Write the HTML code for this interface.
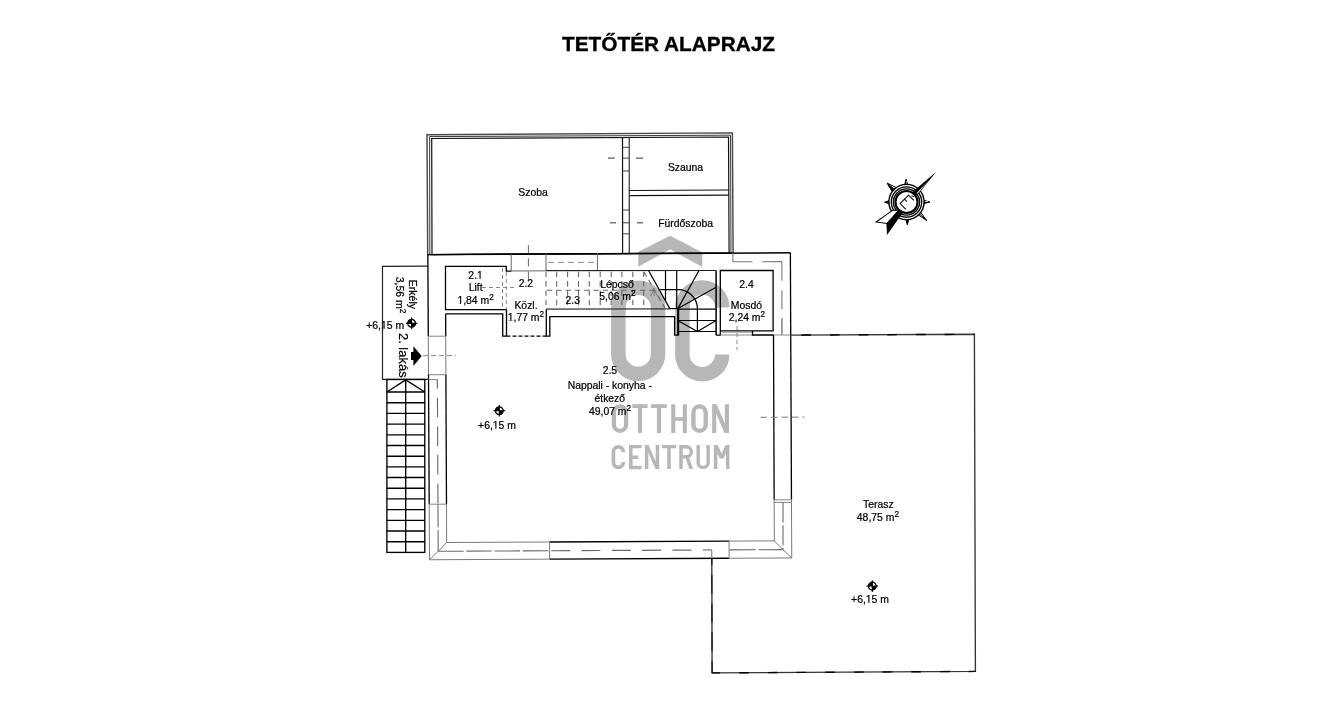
<!DOCTYPE html>
<html>
<head>
<meta charset="utf-8">
<style>
html,body{margin:0;padding:0;background:#fff;}
body{width:1342px;height:705px;overflow:hidden;position:relative;font-family:"Liberation Sans",sans-serif;}
svg{position:absolute;left:0;top:0;filter:grayscale(1);}
svg text{font-family:"Liberation Sans",sans-serif;}
</style>
</head>
<body>
<svg width="1342" height="705" viewBox="0 0 1342 705">
<rect x="0" y="0" width="1342" height="705" fill="#fff"/>

<!-- TITLE -->
<text x="668.5" y="51" font-size="20.8" font-weight="bold" text-anchor="middle" fill="#000" stroke="#000" stroke-width="0.35">TETŐTÉR ALAPRAJZ</text>

<!-- WATERMARK -->
<g id="wm" fill="#b7b7b7" stroke="none">
  <polygon points="670.1,236 702,252.6 702,266.6 670.1,249.1 638.55,266.3 638.55,252" stroke="#b7b7b7" stroke-width="0.6" stroke-linejoin="round"/>
  <path d="M618.35,307.6 A19.85,19.85 0 0 1 658.05,307.6 L658.05,354 A19.85,19.85 0 0 1 618.35,354 Z" fill="none" stroke="#b7b7b7" stroke-width="14.5"/>
  <path d="M722.2,307.5 A19.9,19.9 0 0 0 682.4,307.5 L682.4,354.4 A19.9,19.9 0 0 0 722.2,354.4" fill="none" stroke="#b7b7b7" stroke-width="14.5"/>
  <g fill="none" stroke="#b7b7b7" stroke-linecap="butt">
    <!-- OTTHON -->
    <path d="M613.9,412.5 A6.1,6.1 0 0 1 626.1,412.5 V424.7 A6.1,6.1 0 0 1 613.9,424.7 Z" stroke-width="4.3"/>
    <path d="M632.3,406.1 H647.6 M651.1,406.1 H666.8" stroke-width="3.6"/>
    <path d="M639.95,404.3 V432.9 M658.95,404.3 V432.9 M673.25,404.3 V432.9 M684.85,404.3 V432.9 M714.2,404.3 V432.9 M726.9,404.3 V432.9" stroke-width="4.1"/>
    <path d="M673.25,419 H684.85" stroke-width="3.5"/>
    <path d="M693.4,412.55 A6.15,6.15 0 0 1 705.7,412.55 V424.65 A6.15,6.15 0 0 1 693.4,424.65 Z" stroke-width="4.4"/>
    <!-- CENTRUM -->
    <path d="M623.3,452.2 L623.3,451.75 A4.95,4.95 0 0 0 613.4,451.75 L613.4,462.35 A4.95,4.95 0 0 0 623.3,462.35 L623.3,461.9" stroke-width="3.7"/>
    <path d="M630.8,445 V469.1 M646.6,445 V469.1 M657.45,445 V469.1 M669,445 V469.1 M681,445 V469.1 M715.6,445 V469.1 M727.7,445 V469.1" stroke-width="3.5"/>
    <path d="M629,446.6 H641.5 M629,457.25 H638.2 M629,467.5 H641.5 M662,446.7 H676" stroke-width="3.3"/>
    <path d="M681,446.8 H686.3 A5,5 0 0 1 686.3,456.8 H681" stroke-width="3.5"/>
    <path d="M698.15,445 V462.4 A5,5 0 0 0 708.15,462.4 V445" stroke-width="3.4"/>
  </g>
  <polygon points="712.2,404.3 716.6,404.3 728.9,432.9 724.5,432.9"/>
  <polygon points="644.9,445 648.5,445 659.1,469.1 655.5,469.1"/>
  <polygon points="685.3,457.2 689.1,457.2 693.1,469.1 689.3,469.1"/>
  <polygon points="713.8,445 717.6,445 721.6,453.6 725.6,445 729.5,445 723.5,458.6 719.7,458.6"/>
</g>

<g id="upper">
<polygon points="427,134.7 732.4,132.9 733.1,252.9 427.7,254.6" stroke="#4a4a4a" stroke-width="1.45" fill="none"/>
<polygon points="429.6,136.6 730.5,135.2 731,253 429.8,254.6" stroke="#3a3a3a" stroke-width="1.0" fill="none"/>
<polygon points="431.7,138.5 728.5,137 729.1,253 432,254.6" stroke="#111" stroke-width="1.2" fill="none"/>
<line x1="622.5" y1="137.5" x2="622.6" y2="253.6" stroke="#111" stroke-width="1.2"/>
<line x1="629.2" y1="137.3" x2="629.3" y2="253.5" stroke="#333" stroke-width="1.2"/>
<line x1="622.5" y1="147.3" x2="629.2" y2="147.3" stroke="#444" stroke-width="1.0"/>
<line x1="622.5" y1="158.1" x2="629.2" y2="158.1" stroke="#444" stroke-width="1.0"/>
<line x1="622.5" y1="171" x2="629.2" y2="171" stroke="#444" stroke-width="1.0"/>
<line x1="622.5" y1="210" x2="629.2" y2="210" stroke="#444" stroke-width="1.0"/>
<line x1="622.5" y1="222.8" x2="629.2" y2="222.8" stroke="#444" stroke-width="1.0"/>
<line x1="622.5" y1="233.8" x2="629.2" y2="233.8" stroke="#444" stroke-width="1.0"/>
<line x1="608" y1="158.1" x2="614.8" y2="158.1" stroke="#444" stroke-width="1.1"/>
<line x1="636" y1="158.1" x2="643" y2="158.1" stroke="#444" stroke-width="1.1"/>
<line x1="610" y1="222.8" x2="616" y2="222.8" stroke="#444" stroke-width="1.1"/>
<line x1="637" y1="222.8" x2="643" y2="222.8" stroke="#444" stroke-width="1.1"/>
<line x1="629.2" y1="190.5" x2="728.8" y2="190" stroke="#111" stroke-width="1.2"/>
<line x1="629.3" y1="195.6" x2="728.8" y2="195.1" stroke="#111" stroke-width="1.2"/>
</g>
<g id="main" fill="none">
<line x1="427.83" y1="254.65" x2="790.37" y2="252.84" stroke="#000" stroke-width="1.45"/>
<line x1="427.83" y1="254.6" x2="428.28" y2="336.2" stroke="#000" stroke-width="1.3"/>
<line x1="428.28" y1="336.2" x2="428.49" y2="374.6" stroke="#7a7a7a" stroke-width="1.0"/>
<line x1="428.49" y1="374.6" x2="429.2" y2="504.2" stroke="#000" stroke-width="1.3"/>
<line x1="429.2" y1="504.2" x2="429.51" y2="559.75" stroke="#7a7a7a" stroke-width="1.0"/>
<line x1="445.62" y1="313.9" x2="445.72" y2="336.2" stroke="#000" stroke-width="1.3"/>
<line x1="445.72" y1="336.2" x2="445.9" y2="374.6" stroke="#7a7a7a" stroke-width="1.0"/>
<line x1="445.9" y1="374.6" x2="446.48" y2="504.2" stroke="#000" stroke-width="1.3"/>
<line x1="446.48" y1="504.2" x2="446.65" y2="542.5" stroke="#7a7a7a" stroke-width="1.0"/>
<line x1="428.28" y1="336.2" x2="445.72" y2="336.2" stroke="#858585" stroke-width="1.0"/>
<line x1="428.49" y1="374.7" x2="445.9" y2="374.7" stroke="#858585" stroke-width="1.0"/>
<line x1="429.2" y1="504.2" x2="446.48" y2="504.2" stroke="#858585" stroke-width="1.0"/>
<line x1="790.37" y1="252.85" x2="791.48" y2="499.8" stroke="#000" stroke-width="1.3"/>
<line x1="791.48" y1="499.8" x2="791.74" y2="557.94" stroke="#7a7a7a" stroke-width="1.0"/>
<line x1="773.5" y1="335" x2="774.16" y2="499.8" stroke="#000" stroke-width="1.3"/>
<line x1="774.16" y1="499.8" x2="774.33" y2="540.87" stroke="#7a7a7a" stroke-width="1.0"/>
<line x1="774.16" y1="499.8" x2="791.48" y2="499.8" stroke="#858585" stroke-width="1.0"/>
<line x1="774.17" y1="502.4" x2="791.49" y2="502.4" stroke="#858585" stroke-width="1.0"/>
<line x1="429.5" y1="559.75" x2="549.6" y2="559.15" stroke="#7a7a7a" stroke-width="1.0"/>
<line x1="549.6" y1="559.15" x2="728.9" y2="558.26" stroke="#000" stroke-width="1.35"/>
<line x1="728.9" y1="558.26" x2="791.74" y2="557.94" stroke="#7a7a7a" stroke-width="1.0"/>
<line x1="446.65" y1="542.51" x2="549.6" y2="541.99" stroke="#7a7a7a" stroke-width="1.0"/>
<line x1="549.6" y1="541.99" x2="729" y2="541.1" stroke="#000" stroke-width="1.35"/>
<line x1="729" y1="541.1" x2="774.33" y2="540.87" stroke="#7a7a7a" stroke-width="1.0"/>
<line x1="549.6" y1="541.99" x2="549.6" y2="559.15" stroke="#7a7a7a" stroke-width="1.0"/>
<line x1="729.1" y1="541.09" x2="729.1" y2="558.25" stroke="#7a7a7a" stroke-width="1.0"/>
<polyline points="429.5,559.75 438.21,551.3 446.65,542.5" stroke="#7a7a7a" stroke-width="1.0" fill="none"/>
<polyline points="774.33,540.87 783,549.6 791.74,557.94" stroke="#7a7a7a" stroke-width="1.0" fill="none"/>
<line x1="437.35" y1="379.4" x2="437.97" y2="504.2" stroke="#6a6a6a" stroke-width="1.15" stroke-dasharray="19.5,9.2" stroke-dashoffset="10.4"/>
<line x1="437.97" y1="504.2" x2="438.21" y2="551.3" stroke="#6a6a6a" stroke-width="1.1" stroke-dasharray="26,2.7" stroke-dashoffset="3"/>
<line x1="438.21" y1="551.3" x2="549.6" y2="550.77" stroke="#6a6a6a" stroke-width="1.1" stroke-dasharray="25.5,2.7"/>
<line x1="549.6" y1="550.77" x2="711.7" y2="549.96" stroke="#6a6a6a" stroke-width="1.2" stroke-dasharray="0,1.6,19,9.7" stroke-dashoffset="0"/>
<line x1="729.8" y1="549.87" x2="783" y2="549.6" stroke="#6a6a6a" stroke-width="1.1" stroke-dasharray="26,2.7"/>
<line x1="783" y1="502.6" x2="783" y2="549.6" stroke="#6a6a6a" stroke-width="1.1" stroke-dasharray="20,2.7"/>
<line x1="781.9" y1="261.7" x2="781.9" y2="335" stroke="#7a7a7a" stroke-width="1.1" stroke-dasharray="19,9.6"/>
<polyline points="428.52,379.6 437.35,379.6 437.37,384" stroke="#858585" stroke-width="1.0" fill="none"/>
<polyline points="732.9,253 732.9,261.8 752.5,261.7" stroke="#7a7a7a" stroke-width="1.1" fill="none"/>
<line x1="762.3" y1="261.7" x2="781.9" y2="261.6" stroke="#7a7a7a" stroke-width="1.1"/>
</g>
<g id="terrace" fill="none">
<polyline points="790.74,335.1 974.4,334.3 975.4,671.4 712.1,672.9 711.8,558.34" stroke="#363636" stroke-width="1.35" fill="none"/>
<line x1="801.3" y1="335.05" x2="974.4" y2="334.3" stroke="#000" stroke-width="1.4" stroke-dasharray="9.7,19"/>
<line x1="975.4" y1="671.4" x2="712.1" y2="672.9" stroke="#000" stroke-width="1.4" stroke-dasharray="9.7,19" stroke-dashoffset="3"/>
<line x1="712.1" y1="672.9" x2="711.8" y2="558.34" stroke="#111" stroke-width="1.2" stroke-dasharray="19,9.7" stroke-dashoffset="7"/>
<polyline points="711.8,558.34 711.7,549.96" stroke="#7a7a7a" stroke-width="1.1" fill="none"/>
<line x1="760.5" y1="417.3" x2="804.4" y2="417.1" stroke="#7a7a7a" stroke-width="1.0" stroke-dasharray="6.5,4"/>
</g>
<g font-size="10.4" fill="#000" stroke="#000" stroke-width="0.22" text-anchor="middle">
  <text x="533.1" y="195.6">Szoba</text>
  <text x="685.5" y="171">Szauna</text>
  <text x="685.6" y="226.9">Fürdőszoba</text>
</g>

<!-- TOP WALL INNER STRUCTURES -->
<g fill="none">
  <!-- lift box -->
  <polyline points="506.3,309.6 445.5,309.6 445.5,266.3 506.3,266.3 506.3,271.2 511.3,271.2" stroke="#000" stroke-width="1.3"/>
  <line x1="511.2" y1="254" x2="511.2" y2="271.2" stroke="#666" stroke-width="1"/>
  <line x1="528.4" y1="245.1" x2="528.4" y2="281.5" stroke="#666" stroke-width="1" stroke-dasharray="8.2,5"/>
  <line x1="511.3" y1="271" x2="546" y2="270.8" stroke="#666" stroke-width="1"/>
  <g stroke="#888" stroke-width="1" stroke-dasharray="4,3">
    <line x1="502.5" y1="268" x2="502.5" y2="309.6"/>
    <line x1="506.3" y1="272" x2="506.3" y2="309.6"/>
    <line x1="482" y1="287.5" x2="516" y2="287.5"/>
  </g>
  <!-- main room top-left, notch -->
  <polyline points="445.5,313.8 502.7,313.8 502.7,336.2 506.5,336.2 506.5,309.6" stroke="#000" stroke-width="1.3"/>
  <line x1="506.5" y1="336.2" x2="546.3" y2="336.2" stroke="#000" stroke-width="1.2" stroke-dasharray="4,2"/>
  <polyline points="546.3,309.2 546.3,336.2 549.8,336.2 549.8,316.7 674.6,316.7 674.6,335.2 678.2,335.2 678.2,308.6" stroke="#000" stroke-width="1.3"/>
  <!-- stair section grey -->
  <line x1="546" y1="253.3" x2="546" y2="270.6" stroke="#666" stroke-width="1"/>
  <line x1="597.4" y1="253.3" x2="597.4" y2="270.6" stroke="#666" stroke-width="1"/>
  <line x1="548" y1="262.4" x2="597" y2="262.4" stroke="#888" stroke-width="1" stroke-dasharray="6,4"/>
  <line x1="546" y1="270.6" x2="716.1" y2="270.5" stroke="#222" stroke-width="1.2"/>
  <line x1="546" y1="309.2" x2="669.8" y2="308.8" stroke="#333" stroke-width="1.2"/>
  <g stroke="#666" stroke-width="1.1" stroke-dasharray="5.3,4">
    <line x1="546" y1="271.8" x2="546" y2="309"/>
    <line x1="556.7" y1="271.8" x2="556.7" y2="309"/>
    <line x1="567.6" y1="271.8" x2="567.6" y2="309"/>
    <line x1="578.5" y1="271.8" x2="578.5" y2="309"/>
    <line x1="589.3" y1="271.8" x2="589.3" y2="309"/>
    <line x1="600.2" y1="271.8" x2="600.2" y2="309"/>
    <line x1="611.2" y1="271.8" x2="611.2" y2="309"/>
    <line x1="621.9" y1="271.8" x2="621.9" y2="309"/>
    <line x1="632.8" y1="271.8" x2="632.8" y2="309"/>
    <line x1="643.7" y1="271.8" x2="643.7" y2="309"/>
    <line x1="547" y1="290.2" x2="660" y2="290.2"/>
    <line x1="644" y1="272" x2="665" y2="308"/>
  </g>
  <path d="M650.6,296 L654.1,289.5 L657.6,296 M654.1,289.5 V296" fill="none" stroke="#777" stroke-width="1"/>
  <!-- winder stair -->
  <g stroke="#000" stroke-width="1.2">
    <line x1="648.5" y1="270.5" x2="669.8" y2="308.6"/>
    <line x1="669.8" y1="308.6" x2="677.8" y2="308.6"/>
    <line x1="665.5" y1="270.5" x2="665.5" y2="300.9"/>
    <line x1="676.7" y1="270.5" x2="676.7" y2="308.6"/>
    <line x1="677.8" y1="308.6" x2="699" y2="270.5"/>
    <line x1="677.8" y1="308.6" x2="716.1" y2="287.3"/>
    <path d="M660.2,289.7 L677.5,289.7 A19.4,19 0 0 1 697.4,308.6 L697.4,331.5"/>
    <line x1="677.8" y1="309.1" x2="716.1" y2="309.1"/>
    <line x1="677.8" y1="320.5" x2="716.1" y2="320.5"/>
    <line x1="677.8" y1="331.5" x2="716.1" y2="331.5"/>
    <polyline points="677.8,320.5 697.4,331.5 716.1,320.5"/>
    <line x1="716.1" y1="270.5" x2="716.1" y2="335.2" stroke-width="1.5"/>
    <polyline points="716.1,335.2 720.3,335.2 720.3,270.5 773.1,270.5 773.1,330.8 720.3,330.8" stroke-width="1.3"/>
  </g>
  <line x1="678.2" y1="308.6" x2="678.2" y2="335.2" stroke="#000" stroke-width="2"/>
  <!-- mosdó bottom threshold -->
  <line x1="722" y1="332.2" x2="752.5" y2="332.2" stroke="#999" stroke-width="1"/>
  <line x1="720.3" y1="335" x2="752.5" y2="335" stroke="#888" stroke-width="1"/>
  <polyline points="752.5,331 752.5,335 773.8,335" stroke="#000" stroke-width="1.3"/>
  <line x1="773.8" y1="335" x2="790.3" y2="335" stroke="#888" stroke-width="1"/>
  <line x1="781.9" y1="317.5" x2="781.9" y2="335" stroke="#888" stroke-width="1"/>
  <line x1="737" y1="326" x2="737" y2="350" stroke="#888" stroke-width="1" stroke-dasharray="4,3"/>
</g>

<!-- ERKÉLY -->
<g fill="none" stroke="#222" stroke-width="1.2">
  <polyline points="428.2,266.2 382.5,266.3 382.5,379.4 428.5,379.4"/>
</g>
<g stroke="#888" stroke-width="1" stroke-dasharray="5,3">
  <line x1="423" y1="355.7" x2="456" y2="355.7"/>
</g>
<!-- entrance arrow -->
<polygon points="411,352 413.4,352 413.4,346.2 421.7,355.9 413.4,365.9 413.4,360 411,360" fill="#000"/>

<!-- LEFT STAIRS -->
<g fill="none" stroke="#000" stroke-width="1.35">
  <rect x="386.9" y="379.5" width="37.9" height="172.9"/>
  <line x1="405.7" y1="379.5" x2="405.7" y2="552.4"/>
  <polyline points="386.9,392.0 405.7,379.9 424.8,392.0"/>
  <line x1="386.9" y1="392.0" x2="424.8" y2="392.0"/>
  <line x1="386.9" y1="402.7" x2="424.8" y2="402.7"/>
  <line x1="386.9" y1="413.4" x2="424.8" y2="413.4"/>
  <line x1="386.9" y1="424.1" x2="424.8" y2="424.1"/>
  <line x1="386.9" y1="434.8" x2="424.8" y2="434.8"/>
  <line x1="386.9" y1="445.5" x2="424.8" y2="445.5"/>
  <line x1="386.9" y1="456.2" x2="424.8" y2="456.2"/>
  <line x1="386.9" y1="466.9" x2="424.8" y2="466.9"/>
  <line x1="386.9" y1="477.5" x2="424.8" y2="477.5"/>
  <line x1="386.9" y1="488.2" x2="424.8" y2="488.2"/>
  <line x1="386.9" y1="498.9" x2="424.8" y2="498.9"/>
  <line x1="386.9" y1="509.6" x2="424.8" y2="509.6"/>
  <line x1="386.9" y1="520.3" x2="424.8" y2="520.3"/>
  <line x1="386.9" y1="531.0" x2="424.8" y2="531.0"/>
  <line x1="386.9" y1="541.7" x2="424.8" y2="541.7"/>
</g>

<!-- LEVEL MARKERS -->
<defs>
  <g id="lvl">
    <circle cx="0" cy="0" r="3.9" fill="#fff" stroke="#000" stroke-width="1.3"/>
    <path d="M0,0 L-3.9,0 A3.9,3.9 0 0 1 0,-3.9 Z" fill="#000"/>
    <path d="M0,0 L3.9,0 A3.9,3.9 0 0 1 0,3.9 Z" fill="#000"/>
    <line x1="-5.8" y1="0" x2="5.8" y2="0" stroke="#000" stroke-width="1.1"/>
    <line x1="0" y1="-5.8" x2="0" y2="5.8" stroke="#000" stroke-width="1.1"/>
  </g>
</defs>
<use href="#lvl" x="411.6" y="323.3"/>
<use href="#lvl" x="499.3" y="410.7"/>
<use href="#lvl" x="872.3" y="586.1"/>

<!-- ROOM TEXTS -->
<g font-size="10.4" fill="#000" stroke="#000" stroke-width="0.22" text-anchor="middle">
  <text x="475.6" y="278.8">2.1</text>
  <text x="475.6" y="291.3">Lift</text>
  <text x="475.6" y="303.8">1,84 m<tspan font-size="8.2" dy="-4">2</tspan></text>
  <text x="525.9" y="286.9">2.2</text>
  <text x="526" y="308.8">Közl.</text>
  <text x="525.9" y="321.3">1,77 m<tspan font-size="8.2" dy="-4">2</tspan></text>
  <text x="572.7" y="303.7">2.3</text>
  <text x="617" y="287.6">Lépcső</text>
  <text x="617.4" y="300.1">5,06 m<tspan font-size="8.2" dy="-4">2</tspan></text>
  <text x="746.5" y="287.5">2.4</text>
  <text x="746.4" y="308.8">Mosdó</text>
  <text x="746.9" y="321.3">2,24 m<tspan font-size="8.2" dy="-4">2</tspan></text>
  <text x="609.9" y="373.9">2.5</text>
  <text x="609.8" y="389.2">Nappali - konyha -</text>
  <text x="609.8" y="401.6">étkező</text>
  <text x="610" y="414.6">49,07 m<tspan font-size="8.2" dy="-4">2</tspan></text>
  <text x="497" y="428.5">+6,15 m</text>
  <text x="878.3" y="507.9">Terasz</text>
  <text x="877.9" y="520.6">48,75 m<tspan font-size="8.2" dy="-4">2</tspan></text>
  <text x="870" y="603">+6,15 m</text>
  <text x="385.2" y="329">+6,15 m</text>
</g>
<g id="onefix">
<rect x="477.49" y="277.82" width="2.08" height="1.5" fill="#fff"/>
<rect x="480.65" y="277.82" width="2.38" height="1.5" fill="#fff"/>
<rect x="457.89" y="302.82" width="2.08" height="1.5" fill="#fff"/>
<rect x="461.05" y="302.82" width="2.38" height="1.5" fill="#fff"/>
<rect x="508.19" y="320.32" width="2.08" height="1.5" fill="#fff"/>
<rect x="511.35" y="320.32" width="2.38" height="1.5" fill="#fff"/>
<rect x="493.25" y="427.52" width="2.08" height="1.5" fill="#fff"/>
<rect x="496.41" y="427.52" width="2.38" height="1.5" fill="#fff"/>
<rect x="866.25" y="602.02" width="2.08" height="1.5" fill="#fff"/>
<rect x="869.41" y="602.02" width="2.38" height="1.5" fill="#fff"/>
<rect x="381.45" y="328.02" width="2.08" height="1.5" fill="#fff"/>
<rect x="384.61" y="328.02" width="2.38" height="1.5" fill="#fff"/>
<line x1="382.5" y1="326" x2="382.5" y2="331" stroke="#222" stroke-width="1.2"/>
</g>
<g font-size="10.5" fill="#000" stroke="#000" stroke-width="0.22" text-anchor="middle">
  <text transform="translate(408.6,294.4) rotate(90)">Erkély</text>
  <text transform="translate(395.8,295) rotate(90)">3,56 m<tspan font-size="8.3" dy="-4">2</tspan></text>
</g>
<text transform="translate(399.3,332.9) rotate(90)" font-size="13" fill="#000" stroke="#000" stroke-width="0.2">2. lakás</text>

<!-- COMPASS -->
<g id="compass" transform="translate(906.5,202)">
  <g stroke="#000" stroke-width="1" stroke-linejoin="miter">
    <polygon points="-19.2,-18.8 -10.3,-14.4 -14.6,-11.2" fill="#fff"/>
    <polygon points="-19.2,-18.8 -12.4,-12.8 -14.6,-11.2" fill="#000"/>
    <polygon points="20.2,18.5 12.9,8.7 9.2,11.2" fill="#fff"/>
    <line x1="20.2" y1="18.5" x2="11" y2="10" />
    <polygon points="-0.5,-22.9 -2,-16.5 1.6,-16.5" fill="#000"/>
    <polygon points="23.4,0 16.5,-1.8 16.5,1.8" fill="#000"/>
    <polygon points="0.8,22.7 -1,16.5 2.6,16.5" fill="#000"/>
    <polygon points="-22,0.2 -16.5,-1.6 -16.5,2" fill="#000"/>
  </g>
  <g stroke="#fff" stroke-width="0.7">
    <line x1="0.2" y1="-21" x2="0.3" y2="-17.6"/>
    <line x1="21.5" y1="-0.4" x2="17.6" y2="-0.5"/>
  </g>
  <circle r="17.6" fill="#fff" stroke="#000" stroke-width="1.4"/>
  <circle r="15.2" fill="none" stroke="#000" stroke-width="1.35"/>
  <circle r="13.1" fill="none" stroke="#000" stroke-width="1.35"/>
  <circle r="11.05" fill="#fff" stroke="#000" stroke-width="2.1"/>
  <g transform="rotate(45)">
    <polygon points="-0.35,-42 -3,-10.6 3,-12.9" fill="#000"/>
    <polygon points="0.4,-33 2.1,-13.6 0.9,-13.6" fill="#fff"/>
    <polygon points="0.5,11 -3.9,15.5 -7.4,35.7 1.4,29.1" fill="#fff" stroke="#000" stroke-width="1"/>
    <polygon points="0.5,11 1.4,29.1 8.8,35.8 4.2,9.4" fill="#000" stroke="#000" stroke-width="1"/>
    <g stroke="#000" stroke-width="1" fill="none">
      <polyline points="4.1,-6.3 -3.4,-6.3 -3.4,5.6 4.7,5.6"/>
      <line x1="-3.4" y1="-0.6" x2="0" y2="-0.6"/>
      <line x1="-0.9" y1="-7.9" x2="1.6" y2="-9.2"/>
    </g>
  </g>
</g>

</svg>
</body>
</html>
